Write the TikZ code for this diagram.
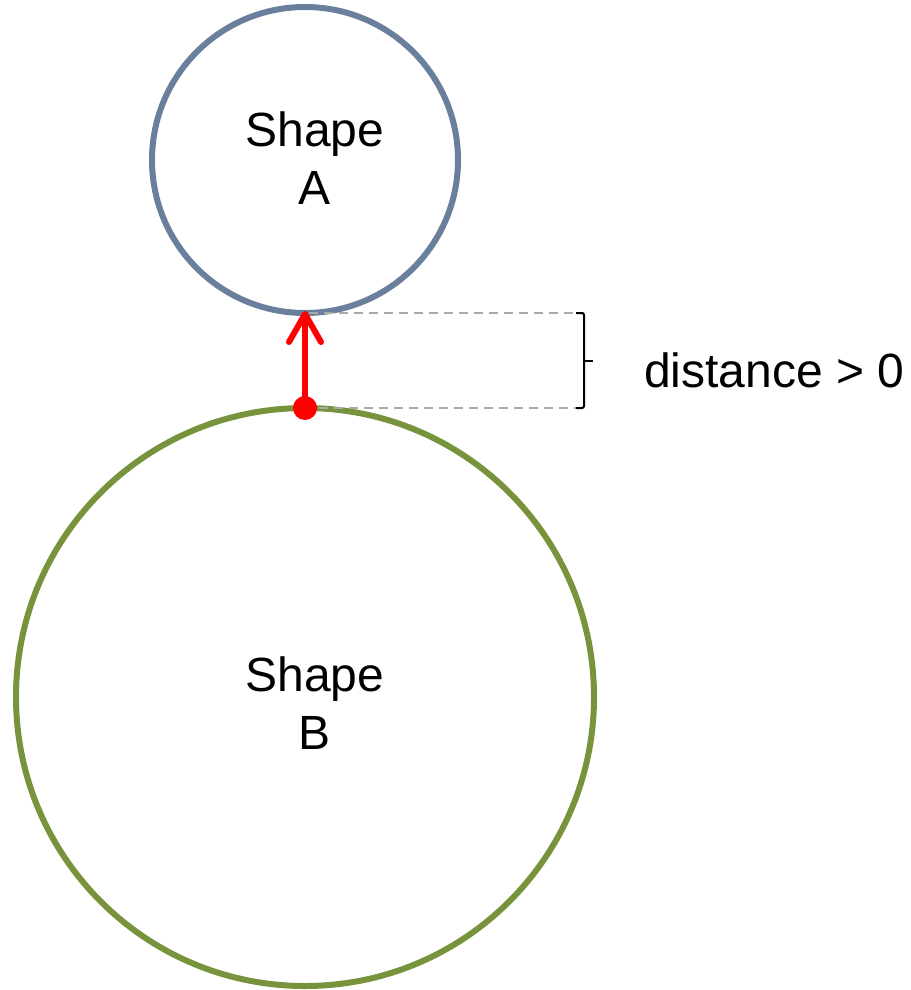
\documentclass[tikz,border=0pt]{standalone}
\usepackage{fontspec}
\setmainfont{Liberation Sans}
\usetikzlibrary{arrows.meta}
\definecolor{shapeA}{HTML}{6A7F9C}
\definecolor{shapeB}{HTML}{77933C}
\definecolor{dashgray}{HTML}{AAAAAA}
\begin{document}
\begin{tikzpicture}[x=1pt,y=-1pt,
  shapecircle/.style={circle,draw,line width=6pt,inner sep=0pt,outer sep=0pt},
  shapetext/.style={align=center,inner sep=0pt,font=\fontsize{48}{58}\selectfont},
  guide/.style={draw=dashgray,line width=2.2pt,dash pattern=on 9pt off 6pt},
  lbl/.style={font=\fontsize{48}{58}\selectfont,anchor=west,inner sep=0pt}]
\useasboundingbox (0,0) rectangle (910,990);
\node[shapecircle,draw=shapeA,minimum size=306pt] (A) at (305,160) {};
\node[shapecircle,draw=shapeB,minimum size=578pt] (B) at (305,697) {};
\node[shapetext] (At) at (315,158) {Shape\\A};
\node[shapetext] (Bt) at (315,703) {Shape\\B};
\coordinate (bx) at (584,0);
\draw[guide] ([xshift=4pt]A.south) -- (A.south -| bx);
\draw[guide] ([xshift=14pt]B.north) -- (B.north -| bx);
\draw[line width=2pt,rounded corners=2pt] ([xshift=-8pt]A.south -| bx) -- (A.south -| bx) -- (B.north -| bx) -- ([xshift=-8pt]B.north -| bx);
\coordinate (bm) at (584,361);
\draw[line width=2pt] (bm) -- ++(9,0);
\node[lbl] (D) at (644,370) {distance > 0};
\draw[red,line width=6pt,-{Straight Barb[length=28pt,width=32pt,line width=6pt,round]}] (B.north) -- ([yshift=2pt]A.south);
\fill[red] (B.north) circle (12pt);
\end{tikzpicture}
\end{document}
